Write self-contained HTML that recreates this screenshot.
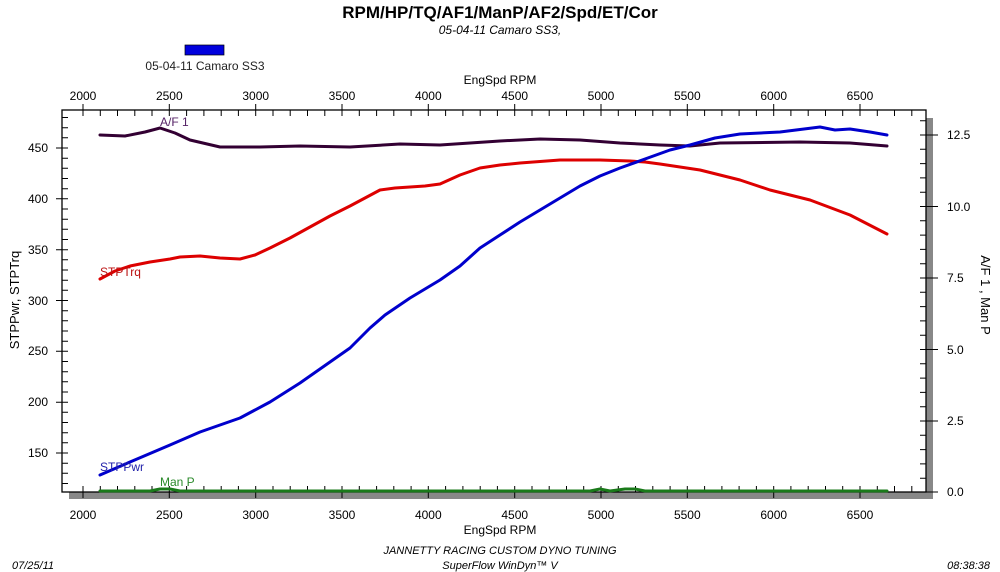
<!DOCTYPE html>
<html><head><meta charset="utf-8"><style>
body{margin:0;background:#fff;}
svg{display:block;font-family:"Liberation Sans",sans-serif;}
</style></head><body>
<svg width="1000" height="572" viewBox="0 0 1000 572" xmlns="http://www.w3.org/2000/svg">
<rect width="1000" height="572" fill="#fff"/>
<text x="500" y="18" font-size="17" font-weight="bold" text-anchor="middle" fill="#000">RPM/HP/TQ/AF1/ManP/AF2/Spd/ET/Cor</text>
<text x="500" y="34" font-size="12" font-style="italic" text-anchor="middle" fill="#000">05-04-11 Camaro SS3,</text>
<rect x="185" y="45" width="39" height="10" fill="#0000dd" stroke="#000" stroke-width="0.7"/>
<text x="205" y="70" font-size="12" text-anchor="middle" fill="#222">05-04-11 Camaro SS3</text>
<text x="500" y="84" font-size="12" text-anchor="middle" fill="#000">EngSpd  RPM</text>
<!-- shadow -->
<rect x="926" y="118" width="7" height="381" fill="#888"/>
<rect x="69" y="492" width="864" height="7" fill="#888"/>
<!-- frame -->
<rect x="62" y="110" width="864" height="382" fill="#fff" stroke="#000" stroke-width="1.3"/>
<g id="ticks" stroke="#000" stroke-width="1">
<path d="M83 104V116M169.3 104V116M255.7 104V116M342 104V116M428.3 104V116M514.7 104V116M601 104V116M687.3 104V116M773.7 104V116M860 104V116
M83 486V498M169.3 486V498M255.7 486V498M342 486V498M428.3 486V498M514.7 486V498M601 486V498M687.3 486V498M773.7 486V498M860 486V498"/>
<path d="M100.3 110V116M117.5 110V116M134.8 110V116M152 110V116M186.6 110V116M203.9 110V116M221.2 110V116M238.4 110V116M273 110V116M290.2 110V116M307.5 110V116M324.8 110V116M359.3 110V116M376.6 110V116M393.8 110V116M411.1 110V116M445.6 110V116M462.9 110V116M480.2 110V116M497.4 110V116M532 110V116M549.2 110V116M566.5 110V116M583.7 110V116M618.3 110V116M635.5 110V116M652.8 110V116M670.1 110V116M704.6 110V116M721.9 110V116M739.1 110V116M756.4 110V116M790.9 110V116M808.2 110V116M825.5 110V116M842.7 110V116M877.3 110V116M894.5 110V116M911.8 110V116
M100.3 486V492M117.5 486V492M134.8 486V492M152 486V492M186.6 486V492M203.9 486V492M221.2 486V492M238.4 486V492M273 486V492M290.2 486V492M307.5 486V492M324.8 486V492M359.3 486V492M376.6 486V492M393.8 486V492M411.1 486V492M445.6 486V492M462.9 486V492M480.2 486V492M497.4 486V492M532 486V492M549.2 486V492M566.5 486V492M583.7 486V492M618.3 486V492M635.5 486V492M652.8 486V492M670.1 486V492M704.6 486V492M721.9 486V492M739.1 486V492M756.4 486V492M790.9 486V492M808.2 486V492M825.5 486V492M842.7 486V492M877.3 486V492M894.5 486V492M911.8 486V492"/>
<path d="M56 148H68M56 198.8H68M56 249.7H68M56 300.5H68M56 351.3H68M56 402.2H68M56 453H68"/>
<path d="M62 117.5H68M62 127.7H68M62 137.8H68M62 158.2H68M62 168.3H68M62 178.5H68M62 188.7H68M62 209H68M62 219.2H68M62 229.3H68M62 239.5H68M62 259.8H68M62 270H68M62 280.2H68M62 290.3H68M62 310.7H68M62 320.8H68M62 331H68M62 341.2H68M62 361.5H68M62 371.7H68M62 381.8H68M62 392H68M62 412.3H68M62 422.5H68M62 432.7H68M62 442.8H68M62 463.2H68M62 473.3H68M62 483.5H68"/>
<path d="M920 135H938M920 206.5H938M920 278H938M920 349.5H938M920 421H938M920 492H938"/>
<path d="M920 120.7H926M920 149.3H926M920 163.6H926M920 177.9H926M920 192.2H926M920 220.8H926M920 235.1H926M920 249.4H926M920 263.7H926M920 292.3H926M920 306.6H926M920 320.9H926M920 335.2H926M920 363.8H926M920 378.1H926M920 392.4H926M920 406.7H926M920 435.3H926M920 449.6H926M920 463.9H926M920 478.2H926"/>
</g>
<g font-size="12" fill="#000" text-anchor="middle">
<text x="83" y="100">2000</text><text x="169.3" y="100">2500</text><text x="255.7" y="100">3000</text><text x="342" y="100">3500</text><text x="428.3" y="100">4000</text><text x="514.7" y="100">4500</text><text x="601" y="100">5000</text><text x="687.3" y="100">5500</text><text x="773.7" y="100">6000</text><text x="860" y="100">6500</text>
<text x="83" y="519">2000</text><text x="169.3" y="519">2500</text><text x="255.7" y="519">3000</text><text x="342" y="519">3500</text><text x="428.3" y="519">4000</text><text x="514.7" y="519">4500</text><text x="601" y="519">5000</text><text x="687.3" y="519">5500</text><text x="773.7" y="519">6000</text><text x="860" y="519">6500</text>
<text x="500" y="534">EngSpd  RPM</text>
</g>
<g font-size="12" fill="#000" text-anchor="end">
<text x="48" y="152">450</text><text x="48" y="203">400</text><text x="48" y="254">350</text><text x="48" y="305">300</text><text x="48" y="355">250</text><text x="48" y="406">200</text><text x="48" y="457">150</text>
</g>
<g font-size="12" fill="#000" text-anchor="start">
<text x="947" y="139">12.5</text><text x="947" y="211">10.0</text><text x="947" y="282">7.5</text><text x="947" y="354">5.0</text><text x="947" y="425">2.5</text><text x="947" y="496">0.0</text>
</g>
<text transform="translate(19,300) rotate(-90)" font-size="13" text-anchor="middle" fill="#000">STPPwr, STPTrq</text>
<text transform="translate(981,295) rotate(90)" font-size="13" text-anchor="middle" fill="#000">A/F 1 , Man P</text>
<!-- series -->
<g fill="none" stroke-width="3" stroke-linejoin="round" stroke-linecap="round">
<polyline stroke="#1a7a1a" points="100,491 150,491 160,489 170,489 180,491 400,491 590,491 600,489 610,491 625,489 635,489 645,491 887,491"/>
<polyline stroke="#330033" points="100,135 125,136 145,132 160,128 175,133 190,140 220,147 260,147 300,146 350,147 400,144 440,145 500,141 540,139 580,140 620,143 660,145 690,146 720,143 800,142 850,143 887,146"/>
<polyline stroke="#dd0000" points="100,279 115,271 130,266 150,262 170,259 180,257 200,256 220,258 240,259 255,255 270,248 290,238 310,227 330,216 350,206 365,198 380,190 395,188 410,187 425,186 440,184 460,175 480,168 500,165 520,163 560,160 600,160 630,161 645,162 660,164 700,170 740,180 770,190 810,200 850,215 887,234"/>
<polyline stroke="#0000cc" points="100,475 130,462 170,445 200,432 240,418 270,402 300,383 330,362 350,348 370,328 385,315 410,298 440,280 460,266 480,248 500,235 520,222 540,210 560,198 580,186 600,176 620,168 645,159 670,150 690,145 715,138 740,134 780,132 820,127 835,130 850,129 870,132 887,135"/>
</g>
<text x="160" y="126" font-size="12" fill="#552266">A/F 1</text>
<text x="100" y="276" font-size="12" fill="#bb1111">STPTrq</text>
<text x="100" y="471" font-size="12" fill="#2222aa">STPPwr</text>
<text x="160" y="486" font-size="12" fill="#2a8a2a">Man P</text>
<g font-size="11" font-style="italic" fill="#000">
<text x="500" y="554" text-anchor="middle">JANNETTY RACING CUSTOM DYNO TUNING</text>
<text x="500" y="569" text-anchor="middle">SuperFlow WinDyn™  V</text>
<text x="12" y="569">07/25/11</text>
<text x="990" y="569" text-anchor="end">08:38:38</text>
</g>
</svg>
</body></html>
